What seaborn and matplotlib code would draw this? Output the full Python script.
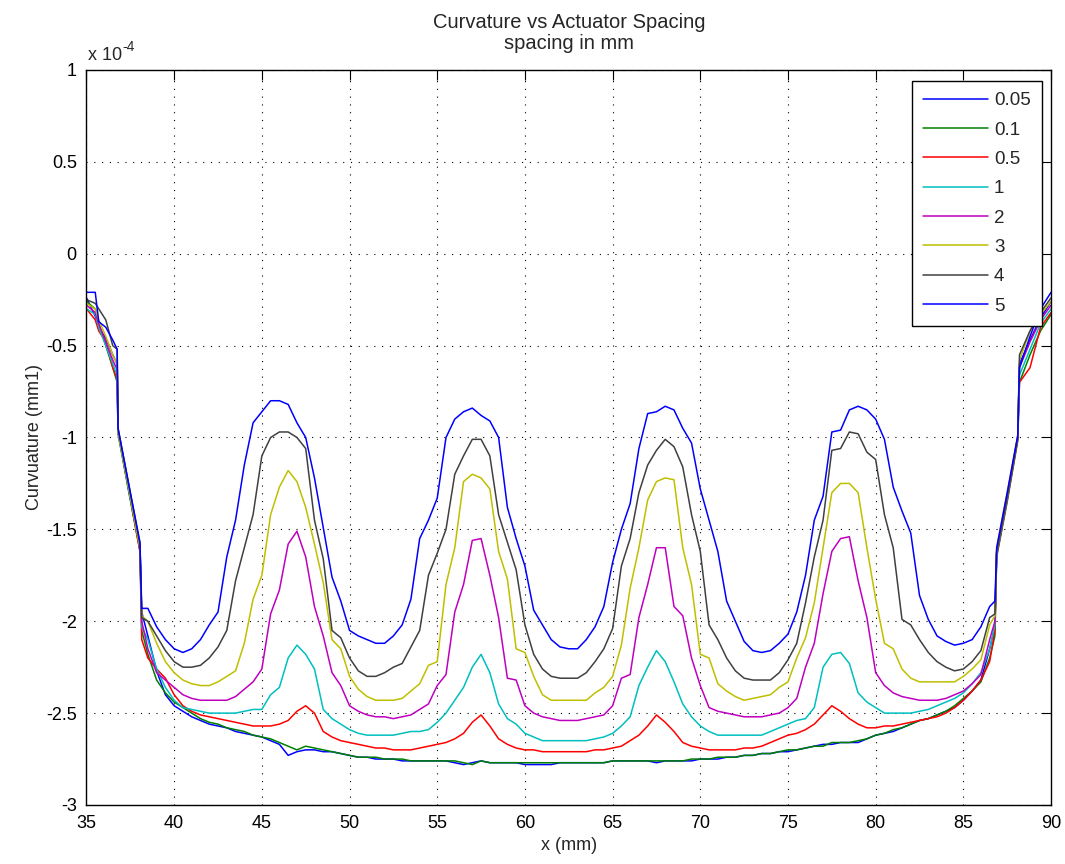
import numpy as np
import pandas as pd
import matplotlib
matplotlib.use("Agg")
import matplotlib.pyplot as plt
from matplotlib.ticker import FuncFormatter
import seaborn as sns

# --- DATA ---
# x sample positions in mm: dense at the steep edges, 0.5 mm steps in between
x_left = [35.0, 35.5, 35.7, 36.1, 36.5, 36.75, 36.8, 37.4, 38.05, 38.15, 38.5]
x_mid = [round(v, 1) for v in np.arange(39.0, 86.01, 0.5)]
x_right = [86.5, 86.8, 86.9, 87.5, 88.1, 88.2, 88.8, 89.4, 90.0]
x_mm = x_left + x_mid + x_right

spacings = ['0.05', '0.1', '0.5', '1', '2', '3', '4', '5']
line_colors = ['#0000FF', '#008000', '#FF0000', '#00BFBF',
               '#BF00BF', '#BFBF00', '#404040', '#0000FF']

# curvature, in units of 1e-4 per mm
curv_005 = [-0.24, -0.34, -0.40, -0.46, -0.55, -0.60, -0.96, -1.28, -1.60, -1.95, -2.08,
            -2.27, -2.40, -2.46, -2.49, -2.52, -2.54, -2.56, -2.57, -2.58, -2.60,
            -2.61, -2.62, -2.63, -2.65, -2.67, -2.73, -2.71, -2.70, -2.70, -2.71,
            -2.71, -2.72, -2.73, -2.74, -2.74, -2.75, -2.75, -2.75, -2.76, -2.76,
            -2.76, -2.76, -2.76, -2.76, -2.77, -2.78, -2.77, -2.76, -2.77, -2.77,
            -2.77, -2.77, -2.78, -2.78, -2.78, -2.78, -2.77, -2.77, -2.77, -2.77,
            -2.77, -2.77, -2.76, -2.76, -2.76, -2.76, -2.76, -2.77, -2.76, -2.76,
            -2.76, -2.76, -2.75, -2.75, -2.75, -2.74, -2.74, -2.73, -2.73, -2.72,
            -2.72, -2.71, -2.71, -2.70, -2.69, -2.68, -2.67, -2.67, -2.66, -2.66,
            -2.66, -2.64, -2.62, -2.61, -2.60, -2.58, -2.56, -2.54, -2.53, -2.51,
            -2.49, -2.47, -2.43, -2.38, -2.32,
            -2.15, -2.03, -1.62, -1.33, -1.00, -0.60, -0.47, -0.35, -0.26]

curv_01 = [-0.26, -0.30, -0.38, -0.50, -0.62, -0.70, -0.98, -1.29, -1.62, -2.05, -2.18,
           -2.32, -2.39, -2.44, -2.47, -2.50, -2.53, -2.55, -2.56, -2.58, -2.59,
           -2.60, -2.62, -2.63, -2.64, -2.66, -2.68, -2.70, -2.68, -2.69, -2.70,
           -2.71, -2.72, -2.73, -2.74, -2.74, -2.74, -2.75, -2.75, -2.75, -2.76,
           -2.76, -2.76, -2.76, -2.76, -2.76, -2.77, -2.78, -2.76, -2.77, -2.77,
           -2.77, -2.77, -2.77, -2.77, -2.77, -2.77, -2.77, -2.77, -2.77, -2.77,
           -2.77, -2.77, -2.76, -2.76, -2.76, -2.76, -2.76, -2.76, -2.76, -2.76,
           -2.76, -2.75, -2.75, -2.75, -2.74, -2.74, -2.74, -2.73, -2.73, -2.72,
           -2.72, -2.71, -2.70, -2.70, -2.69, -2.68, -2.68, -2.66, -2.66, -2.66,
           -2.65, -2.64, -2.62, -2.61, -2.59, -2.58, -2.56, -2.54, -2.53, -2.51,
           -2.49, -2.46, -2.42, -2.38, -2.33,
           -2.20, -2.08, -1.65, -1.35, -1.02, -0.70, -0.55, -0.42, -0.33]

curv_05 = [-0.30, -0.36, -0.42, -0.48, -0.62, -0.68, -0.97, -1.28, -1.62, -2.10, -2.20,
           -2.26, -2.31, -2.40, -2.46, -2.49, -2.51, -2.52, -2.53, -2.54, -2.55,
           -2.56, -2.57, -2.57, -2.57, -2.56, -2.54, -2.49, -2.46, -2.50, -2.60,
           -2.63, -2.65, -2.66, -2.67, -2.68, -2.69, -2.69, -2.70, -2.70, -2.70,
           -2.69, -2.68, -2.67, -2.66, -2.64, -2.61, -2.55, -2.51, -2.57, -2.64,
           -2.67, -2.69, -2.70, -2.70, -2.71, -2.71, -2.71, -2.71, -2.71, -2.71,
           -2.70, -2.70, -2.69, -2.68, -2.65, -2.62, -2.57, -2.51, -2.55, -2.60,
           -2.66, -2.68, -2.69, -2.70, -2.70, -2.70, -2.70, -2.69, -2.69, -2.68,
           -2.66, -2.64, -2.62, -2.61, -2.59, -2.56, -2.51, -2.46, -2.49, -2.53,
           -2.56, -2.58, -2.58, -2.57, -2.57, -2.56, -2.55, -2.54, -2.53, -2.52,
           -2.50, -2.47, -2.43, -2.38, -2.32,
           -2.22, -2.05, -1.64, -1.34, -1.01, -0.70, -0.62, -0.40, -0.32]

curv_1 = [-0.30, -0.33, -0.40, -0.50, -0.60, -0.66, -0.97, -1.28, -1.60, -2.03, -2.10,
          -2.26, -2.36, -2.43, -2.47, -2.48, -2.49, -2.50, -2.50, -2.50, -2.50,
          -2.49, -2.48, -2.48, -2.40, -2.36, -2.20, -2.13, -2.18, -2.26, -2.48,
          -2.53, -2.56, -2.59, -2.61, -2.62, -2.62, -2.62, -2.62, -2.61, -2.60,
          -2.60, -2.59, -2.55, -2.50, -2.43, -2.36, -2.25, -2.18, -2.28, -2.45,
          -2.53, -2.56, -2.61, -2.63, -2.65, -2.65, -2.65, -2.65, -2.65, -2.65,
          -2.64, -2.63, -2.61, -2.57, -2.52, -2.35, -2.25, -2.16, -2.22, -2.33,
          -2.45, -2.52, -2.57, -2.60, -2.62, -2.62, -2.62, -2.62, -2.62, -2.62,
          -2.60, -2.58, -2.56, -2.54, -2.53, -2.47, -2.25, -2.18, -2.17, -2.23,
          -2.39, -2.44, -2.47, -2.50, -2.50, -2.50, -2.50, -2.49, -2.48, -2.46,
          -2.44, -2.42, -2.39, -2.34, -2.28,
          -2.15, -2.02, -1.63, -1.33, -1.00, -0.66, -0.52, -0.38, -0.30]

curv_2 = [-0.28, -0.32, -0.38, -0.48, -0.58, -0.63, -0.96, -1.26, -1.59, -2.00, -2.15,
          -2.28, -2.32, -2.36, -2.40, -2.42, -2.43, -2.43, -2.43, -2.43, -2.41,
          -2.37, -2.33, -2.26, -1.96, -1.83, -1.58, -1.51, -1.65, -1.92, -2.08,
          -2.28, -2.35, -2.46, -2.49, -2.51, -2.52, -2.52, -2.53, -2.52, -2.51,
          -2.48, -2.45, -2.35, -2.29, -1.95, -1.80, -1.56, -1.55, -1.75, -1.98,
          -2.31, -2.32, -2.46, -2.50, -2.52, -2.53, -2.54, -2.54, -2.54, -2.53,
          -2.52, -2.51, -2.46, -2.31, -2.29, -1.98, -1.80, -1.60, -1.60, -1.92,
          -1.97, -2.20, -2.35, -2.47, -2.49, -2.50, -2.51, -2.52, -2.52, -2.52,
          -2.51, -2.50, -2.47, -2.42, -2.25, -2.12, -1.85, -1.62, -1.55, -1.54,
          -1.78, -1.98, -2.28, -2.35, -2.39, -2.41, -2.42, -2.43, -2.43, -2.43,
          -2.42, -2.40, -2.38, -2.34, -2.29,
          -2.10, -2.00, -1.62, -1.32, -1.00, -0.62, -0.48, -0.36, -0.28]

curv_3 = [-0.27, -0.30, -0.36, -0.45, -0.55, -0.60, -0.97, -1.27, -1.60, -1.97, -2.00,
          -2.12, -2.22, -2.28, -2.32, -2.34, -2.35, -2.35, -2.33, -2.30, -2.27,
          -2.12, -1.88, -1.75, -1.42, -1.27, -1.18, -1.24, -1.38, -1.58, -1.79,
          -2.10, -2.15, -2.30, -2.37, -2.41, -2.43, -2.43, -2.43, -2.42, -2.38,
          -2.34, -2.24, -2.22, -1.80, -1.60, -1.24, -1.20, -1.22, -1.28, -1.62,
          -1.77, -2.15, -2.17, -2.30, -2.40, -2.43, -2.43, -2.43, -2.43, -2.43,
          -2.39, -2.36, -2.30, -2.13, -1.82, -1.60, -1.34, -1.24, -1.22, -1.23,
          -1.60, -1.80, -2.18, -2.20, -2.34, -2.38, -2.41, -2.43, -2.42, -2.41,
          -2.40, -2.36, -2.33, -2.20, -2.09, -1.90, -1.60, -1.30, -1.25, -1.25,
          -1.30, -1.60, -1.88, -2.12, -2.15, -2.26, -2.31, -2.33, -2.33, -2.33,
          -2.33, -2.33, -2.30, -2.26, -2.21,
          -2.02, -1.97, -1.60, -1.30, -0.99, -0.58, -0.42, -0.33, -0.26]

curv_4 = [-0.25, -0.27, -0.30, -0.36, -0.50, -0.52, -0.95, -1.25, -1.58, -1.98, -2.00,
          -2.08, -2.16, -2.22, -2.25, -2.25, -2.24, -2.20, -2.14, -2.05, -1.78,
          -1.60, -1.42, -1.10, -1.00, -0.97, -0.97, -1.00, -1.06, -1.45, -1.66,
          -2.05, -2.09, -2.20, -2.27, -2.30, -2.30, -2.28, -2.25, -2.23, -2.14,
          -2.05, -1.75, -1.63, -1.50, -1.20, -1.10, -1.01, -1.01, -1.10, -1.42,
          -1.57, -1.72, -2.02, -2.18, -2.26, -2.30, -2.31, -2.31, -2.31, -2.28,
          -2.22, -2.15, -2.04, -1.70, -1.55, -1.30, -1.15, -1.07, -1.01, -1.05,
          -1.16, -1.42, -1.62, -2.02, -2.10, -2.20, -2.27, -2.31, -2.32, -2.32,
          -2.32, -2.28, -2.21, -2.12, -1.90, -1.65, -1.45, -1.07, -1.06, -0.97,
          -0.98, -1.08, -1.12, -1.42, -1.60, -1.99, -2.02, -2.10, -2.17, -2.22,
          -2.25, -2.27, -2.26, -2.22, -2.16,
          -1.98, -1.96, -1.62, -1.32, -1.00, -0.55, -0.42, -0.32, -0.24]

curv_5 = [-0.21, -0.21, -0.37, -0.40, -0.47, -0.52, -0.95, -1.25, -1.57, -1.93, -1.93,
          -2.03, -2.10, -2.15, -2.17, -2.15, -2.10, -2.02, -1.95, -1.65, -1.45,
          -1.15, -0.92, -0.86, -0.80, -0.80, -0.82, -0.92, -1.00, -1.22, -1.49,
          -1.76, -1.89, -2.05, -2.08, -2.10, -2.12, -2.12, -2.08, -2.02, -1.88,
          -1.55, -1.45, -1.33, -1.00, -0.90, -0.86, -0.84, -0.88, -0.91, -1.00,
          -1.38, -1.55, -1.70, -1.94, -2.02, -2.10, -2.14, -2.15, -2.15, -2.10,
          -2.03, -1.92, -1.68, -1.50, -1.36, -1.06, -0.87, -0.86, -0.83, -0.85,
          -0.95, -1.03, -1.28, -1.45, -1.62, -1.89, -2.00, -2.11, -2.16, -2.17,
          -2.16, -2.12, -2.07, -1.95, -1.75, -1.45, -1.32, -0.97, -0.96, -0.85,
          -0.83, -0.85, -0.90, -1.01, -1.27, -1.40, -1.52, -1.86, -1.99, -2.08,
          -2.11, -2.13, -2.12, -2.10, -2.03,
          -1.92, -1.89, -1.60, -1.30, -0.99, -0.62, -0.45, -0.30, -0.21]

all_curves = [curv_005, curv_01, curv_05, curv_1, curv_2, curv_3, curv_4, curv_5]

# long table for seaborn
df = pd.concat(
    [pd.DataFrame({'x': x_mm, 'curv': c, 'spacing': s}) for s, c in zip(spacings, all_curves)],
    ignore_index=True)

# --- STYLE ---
sns.set_theme(style="white")
plt.rcParams['font.family'] = ['Liberation Sans', 'DejaVu Sans']
plt.rcParams['axes.unicode_minus'] = False

fig = plt.figure(figsize=(10.65, 8.64), dpi=100)
ax = fig.add_axes([0.0812, 0.0683, 0.9057, 0.8507])

sns.lineplot(data=df, x='x', y='curv', hue='spacing', hue_order=spacings,
             palette=dict(zip(spacings, line_colors)), estimator=None, sort=False,
             linewidth=1.1, ax=ax)

ax.set_xlim(35, 90)
ax.set_ylim(-3, 1)
ax.set_xticks(np.arange(35, 91, 5))
ax.set_yticks(np.arange(-3, 1.01, 0.5))
ax.yaxis.set_major_formatter(FuncFormatter(lambda v, p: f"{v:g}"))
ax.tick_params(direction='in', length=7, width=0.8, top=True, right=True,
               labelsize=13, pad=7, colors='black')
for sp in ax.spines.values():
    sp.set_linewidth(1.0)
    sp.set_color('black')
ax.grid(True, linestyle=(0, (1, 6)), color='black', linewidth=0.8)

ax.set_title("Curvature vs Actuator Spacing\nspacing in mm", fontsize=14.5,
             linespacing=1.15, pad=15)
ax.set_xlabel("x (mm)", fontsize=13, labelpad=4)
ax.set_ylabel("Curvuature (mm1)", fontsize=13, labelpad=2)

# MATLAB-style exponent label above the y axis
ax.annotate("x 10", xy=(0, 1), xycoords='axes fraction', xytext=(1, 7),
            textcoords='offset points', fontsize=13, ha='left', va='baseline')
ax.annotate("-4", xy=(0, 1), xycoords='axes fraction', xytext=(26, 14),
            textcoords='offset points', fontsize=10, ha='left', va='baseline')

handles, labels = ax.get_legend_handles_labels()
leg = ax.legend(handles, labels, loc='upper right', bbox_to_anchor=(0.9907, 0.985),
                borderaxespad=0, fontsize=13.5, frameon=True, fancybox=False,
                edgecolor='black', framealpha=1, handlelength=3.5,
                handletextpad=0.3, labelspacing=0.65, borderpad=0.6)
leg.get_frame().set_linewidth(1.0)

fig.savefig("out.png", dpi=100)
